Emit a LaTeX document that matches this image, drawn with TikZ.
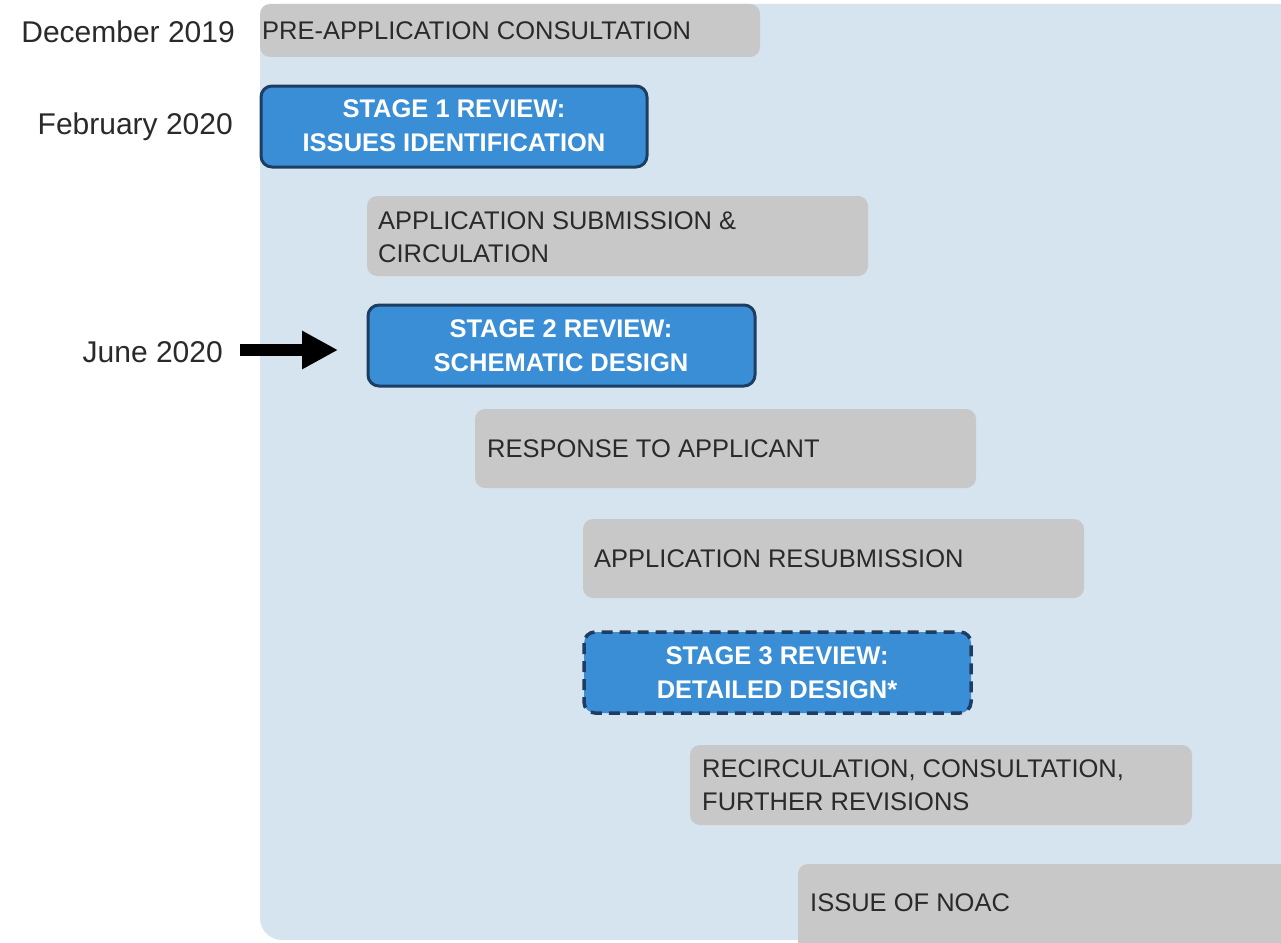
\documentclass[tikz,border=0pt]{standalone}
\usepackage{fontspec}
\setmainfont{Liberation Sans}
\usetikzlibrary{arrows.meta}
\definecolor{bgblue}{HTML}{D6E4F0}
\definecolor{graybox}{HTML}{C8C8C8}
\definecolor{bluebox}{HTML}{3A8ED5}
\definecolor{navy}{HTML}{1E3D62}
\definecolor{darktext}{HTML}{2A2A2A}
\tikzset{
  graystep/.style={fill=graybox, rounded corners=10pt, draw=none},
  bluestep/.style={fill=bluebox, draw=navy, line width=3pt, rounded corners=11pt},
  graytext/.style={anchor=west, align=left, text=darktext, font=\fontsize{25.5}{33}\selectfont, inner sep=0pt},
  bluetext/.style={align=center, text=white, font=\bfseries\fontsize{25.5}{34}\selectfont, inner sep=0pt},
  datetext/.style={anchor=east, text=darktext, font=\fontsize{30}{36}\selectfont, inner sep=0pt},
}
\begin{document}
\begin{tikzpicture}[x=1pt,y=-1pt]
\useasboundingbox (0,0) rectangle (1281,942);
\fill[white] (0,0) rectangle (1281,942);
% background panel
\fill[bgblue, rounded corners=22pt] (260,4) -- (1300,4) -- (1300,940) -- (260,940) -- cycle;
\fill[white] (1281,0) rectangle (1310,950);
% steps
\fill[graystep] (260,4) rectangle (760,57);
\node[graytext] (t1) at (262,31) {PRE-APPLICATION CONSULTATION};

\filldraw[bluestep] (261,86) rectangle (647,167);
\node[bluetext] (t2) at (454,126) {STAGE 1 REVIEW:\\ISSUES IDENTIFICATION};

\fill[graystep] (367,196) rectangle (868,276);
\node[graytext] (t3) at (378,237) {APPLICATION SUBMISSION \&\\CIRCULATION};

\filldraw[bluestep] (368,305) rectangle (755,386);
\node[bluetext] (t4) at (561,346) {STAGE 2 REVIEW:\\SCHEMATIC DESIGN};

\fill[graystep] (475,409) rectangle (976,488);
\node[graytext] (t5) at (487,449) {RESPONSE TO APPLICANT};

\fill[graystep] (583,519) rectangle (1084,598);
\node[graytext] (t6) at (594,559) {APPLICATION RESUBMISSION};

\filldraw[bluestep, line width=3.5pt, dash pattern=on 11pt off 7pt] (584,632) rectangle (971,713);
\node[bluetext] (t7) at (777,673) {STAGE 3 REVIEW:\\DETAILED DESIGN*};

\fill[graystep] (690,745) rectangle (1192,825);
\node[graytext] (t8) at (702,785) {RECIRCULATION, CONSULTATION,\\FURTHER REVISIONS};

\fill[graystep] (798,864) rectangle (1300,960);
\node[graytext] (t9) at (810,903) {ISSUE OF NOAC};

% dates
\node[datetext] (d1) at (235,32) {December 2019};
\node[datetext] (d2) at (233,127) {February 2020};
\node[datetext] (d3) at (223,352) {June 2020};
\coordinate (a0) at (240,350);
\coordinate (a1) at (338,350);
\draw[line width=12pt, -{Triangle[length=36pt,width=36pt]}] (a0) -- (a1);
\end{tikzpicture}
\end{document}
